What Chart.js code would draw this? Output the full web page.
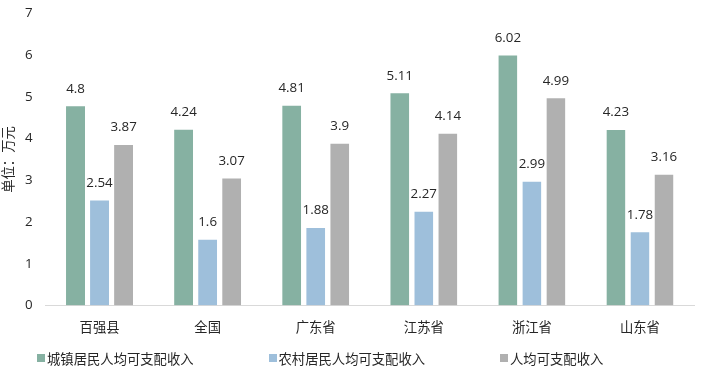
<!DOCTYPE html>
<html>
<head>
<meta charset="utf-8">
<script src="https://cdn.jsdelivr.net/npm/chart.js@4.4.1/dist/chart.umd.min.js"></script>
<style>
  html, body { margin: 0; padding: 0; background: #fff; }
  #wrap { position: relative; width: 706px; height: 372px; }
  #legend { position: absolute; left: 37px; top: 349px; display: grid; grid-template-columns: 231.5px 231.5px 231.5px;
            font-family: "Noto Sans CJK SC", sans-serif; font-size: 13.33px; color: #262626; }
  .item { display: flex; align-items: center; white-space: nowrap; height: 18px; }
  .box { width: 8px; height: 8px; margin-right: 2px; flex: none; }
</style>
</head>
<body>
<div id="wrap">
  <canvas id="c" width="706" height="372"></canvas>
  <div id="legend"></div>
</div>
<script>
const categories = ["百强县", "全国", "广东省", "江苏省", "浙江省", "山东省"];
const seriesNames = ["城镇居民人均可支配收入", "农村居民人均可支配收入", "人均可支配收入"];
const urbanIncome = [4.8, 4.24, 4.81, 5.11, 6.02, 4.23];
const ruralIncome = [2.54, 1.6, 1.88, 2.27, 2.99, 1.78];
const overallIncome = [3.87, 3.07, 3.9, 4.14, 4.99, 3.16];
const yTicks = [0, 1, 2, 3, 4, 5, 6, 7];
const yTitle = "单位：万元";

const colors = ["#86b1a2", "#9ebfdb", "#b0b0b0"];
const FONT = '"Open Sans", "Noto Sans CJK SC", sans-serif';
const TEXT = '#262626';

const valueLabels = {
  id: 'valueLabels',
  afterDatasetsDraw(chart) {
    const ctx = chart.ctx;
    ctx.save();
    ctx.font = '13.33px ' + FONT;
    ctx.fillStyle = TEXT;
    ctx.textAlign = 'center';
    ctx.textBaseline = 'middle';
    chart.data.datasets.forEach((ds, di) => {
      const meta = chart.getDatasetMeta(di);
      meta.data.forEach((el, i) => {
        ctx.fillText(String(ds.data[i]), el.x, el.y - 16.5);
      });
    });
    ctx.restore();
  }
};

const htmlLegend = {
  id: 'htmlLegend',
  afterUpdate(chart) {
    const box = document.getElementById('legend');
    box.innerHTML = '';
    chart.data.datasets.forEach(ds => {
      const item = document.createElement('div');
      item.className = 'item';
      const sw = document.createElement('span');
      sw.className = 'box';
      sw.style.background = ds.backgroundColor;
      const t = document.createElement('span');
      t.textContent = ds.label;
      item.appendChild(sw);
      item.appendChild(t);
      box.appendChild(item);
    });
  }
};

new Chart(document.getElementById('c'), {
  type: 'bar',
  data: {
    labels: categories,
    datasets: [urbanIncome, ruralIncome, overallIncome].map((d, i) => ({
      label: seriesNames[i],
      data: d,
      backgroundColor: colors[i],
      borderColor: 'rgba(255,255,255,0.55)',
      borderWidth: { top: 1, left: 0, right: 0, bottom: 0 },
      borderSkipped: false,
      categoryPercentage: 0.667,
      barPercentage: 0.79
    }))
  },
  options: {
    responsive: false,
    devicePixelRatio: 1,
    animation: false,
    layout: { padding: { top: 0, left: 0, right: 12, bottom: 36 } },
    plugins: {
      legend: { display: false },
      tooltip: { enabled: false }
    },
    scales: {
      x: {
        afterFit(scale) { scale.height = 30.5; },
        grid: { display: false, drawTicks: false },
        border: { display: true, color: '#d9d9d9', width: 1 },
        ticks: { color: TEXT, font: { family: FONT, size: 13.33 }, padding: 14.5 }
      },
      y: {
        min: 0, max: 7,
        afterBuildTicks(scale) { scale.ticks = yTicks.map(v => ({ value: v })); },
        afterFit(scale) { scale.width = 45.5; scale.paddingTop = 13.5; scale.paddingBottom = 0; },
        grid: { display: false, drawTicks: false },
        border: { display: false },
        ticks: { color: TEXT, font: { family: FONT, size: 13.33 }, padding: 13 },
        title: { display: true, text: yTitle, color: TEXT, font: { family: FONT, size: 13.33 }, padding: { top: 1, bottom: 0 } }
      }
    }
  },
  plugins: [valueLabels, htmlLegend]
});
</script>
</body>
</html>
